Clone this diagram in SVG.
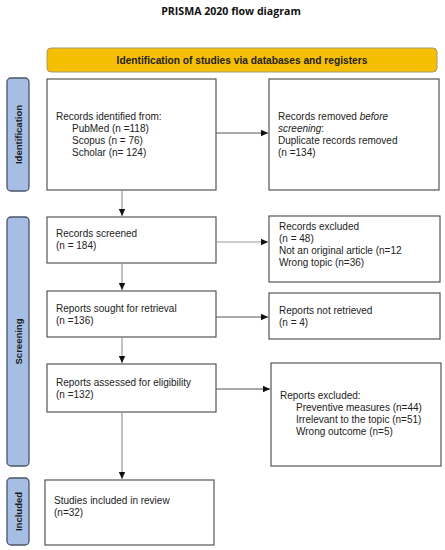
<svg xmlns="http://www.w3.org/2000/svg" width="445" height="550" viewBox="0 0 445 550">
<style>
.t{font-family:"Liberation Sans",Arial,sans-serif;font-size:10px;fill:#222}
.box{fill:#fff;stroke:#555;stroke-width:1.2}
.side{fill:#A6BEE3;stroke:#4a5566;stroke-width:1.3}
.sl{font-family:"Liberation Sans",Arial,sans-serif;font-size:9.5px;font-weight:bold;fill:#1a1a1a}
.c{stroke:#555;stroke-width:1;fill:none}
.cg{stroke:#999;stroke-width:1.2;fill:none}
</style>
<defs>
<marker id="ah" markerWidth="8" markerHeight="8" refX="7" refY="4" orient="auto" markerUnits="userSpaceOnUse">
<path d="M0,0.8 L7,4 L0,7.2 z" fill="#111"/>
</marker>
</defs>
<rect width="445" height="550" fill="#fff"/>
<text x="231" y="15" text-anchor="middle" font-family="'Open Sans','Liberation Sans',sans-serif" font-size="10.6" font-weight="bold" fill="#111">PRISMA 2020 flow diagram</text>

<g id="banner">
<rect x="47" y="48" width="390" height="24" rx="4" fill="#F5BF00" stroke="#a89a70" stroke-width="1"/>
<text x="242" y="64" text-anchor="middle" font-family="'Liberation Sans',Arial,sans-serif" font-size="10.2" font-weight="bold" fill="#222">Identification of studies via databases and registers</text>
</g>

<g id="side-identification">
<rect class="side" x="7" y="78" width="22" height="113" rx="4"/>
<text class="sl" transform="translate(21.5,134.5) rotate(-90)" text-anchor="middle">Identification</text>
</g>
<g id="side-screening">
<rect class="side" x="7" y="217" width="22" height="249" rx="4"/>
<text class="sl" transform="translate(21.5,341.5) rotate(-90)" text-anchor="middle">Screening</text>
</g>
<g id="side-included">
<rect class="side" x="7" y="478" width="22" height="67" rx="4"/>
<text class="sl" transform="translate(21.5,511.5) rotate(-90)" text-anchor="middle">Included</text>
</g>

<g id="records-identified">
<rect class="box" x="47" y="79" width="169" height="111"/>
<text class="t" x="56" y="120">Records identified from:</text>
<text class="t" x="72" y="132">PubMed (n =118)</text>
<text class="t" x="72" y="144">Scopus (n = 76)</text>
<text class="t" x="72" y="156">Scholar (n= 124)</text>
</g>

<g id="records-removed">
<rect class="box" x="269" y="79" width="170" height="111"/>
<text class="t" x="278" y="120">Records removed <tspan font-style="italic">before</tspan></text>
<text class="t" x="278" y="132" font-style="italic">screening<tspan font-style="normal">:</tspan></text>
<text class="t" x="278" y="144">Duplicate records removed</text>
<text class="t" x="278" y="156">(n =134)</text>
</g>

<g id="records-screened">
<rect class="box" x="47" y="217" width="169" height="46"/>
<text class="t" x="56" y="237">Records screened</text>
<text class="t" x="56" y="249">(n = 184)</text>
</g>

<g id="records-excluded">
<rect class="box" x="269" y="216" width="171" height="66"/>
<text class="t" x="279" y="230">Records excluded</text>
<text class="t" x="279" y="242">(n = 48)</text>
<text class="t" x="279" y="254">Not an original article (n=12</text>
<text class="t" x="279" y="266">Wrong topic (n=36)</text>
</g>

<g id="reports-sought">
<rect class="box" x="47" y="291" width="169" height="46"/>
<text class="t" x="56" y="312">Reports sought for retrieval</text>
<text class="t" x="56" y="324">(n =136)</text>
</g>

<g id="reports-not-retrieved">
<rect class="box" x="269" y="293" width="171" height="46"/>
<text class="t" x="279" y="314">Reports not retrieved</text>
<text class="t" x="279" y="326">(n = 4)</text>
</g>

<g id="reports-assessed">
<rect class="box" x="47" y="364" width="169" height="48"/>
<text class="t" x="56" y="386">Reports assessed for eligibility</text>
<text class="t" x="56" y="398">(n =132)</text>
</g>

<g id="reports-excluded">
<rect class="box" x="271" y="363" width="170" height="103"/>
<text class="t" x="280" y="399">Reports excluded:</text>
<text class="t" x="296" y="411">Preventive measures (n=44)</text>
<text class="t" x="296" y="423">Irrelevant to the topic (n=51)</text>
<text class="t" x="296" y="435">Wrong outcome (n=5)</text>
</g>

<g id="studies-included">
<rect class="box" x="45" y="480" width="169" height="65"/>
<text class="t" x="54" y="504">Studies included in review</text>
<text class="t" x="54" y="516">(n=32)</text>
</g>

<g id="connectors">
<line class="c" x1="216" y1="133" x2="268" y2="133" marker-end="url(#ah)"/>
<line class="cg" x1="122" y1="190" x2="122" y2="216" marker-end="url(#ah)"/>
<line class="cg" x1="216" y1="242" x2="268" y2="242" marker-end="url(#ah)"/>
<line class="cg" x1="122" y1="263" x2="122" y2="290" marker-end="url(#ah)"/>
<line class="c" x1="216" y1="317" x2="268" y2="317" marker-end="url(#ah)"/>
<line class="cg" x1="122" y1="337" x2="122" y2="363" marker-end="url(#ah)"/>
<line class="c" x1="216" y1="389" x2="270" y2="389" marker-end="url(#ah)"/>
<line class="cg" x1="122" y1="412" x2="122" y2="479" marker-end="url(#ah)"/>
</g>
</svg>
